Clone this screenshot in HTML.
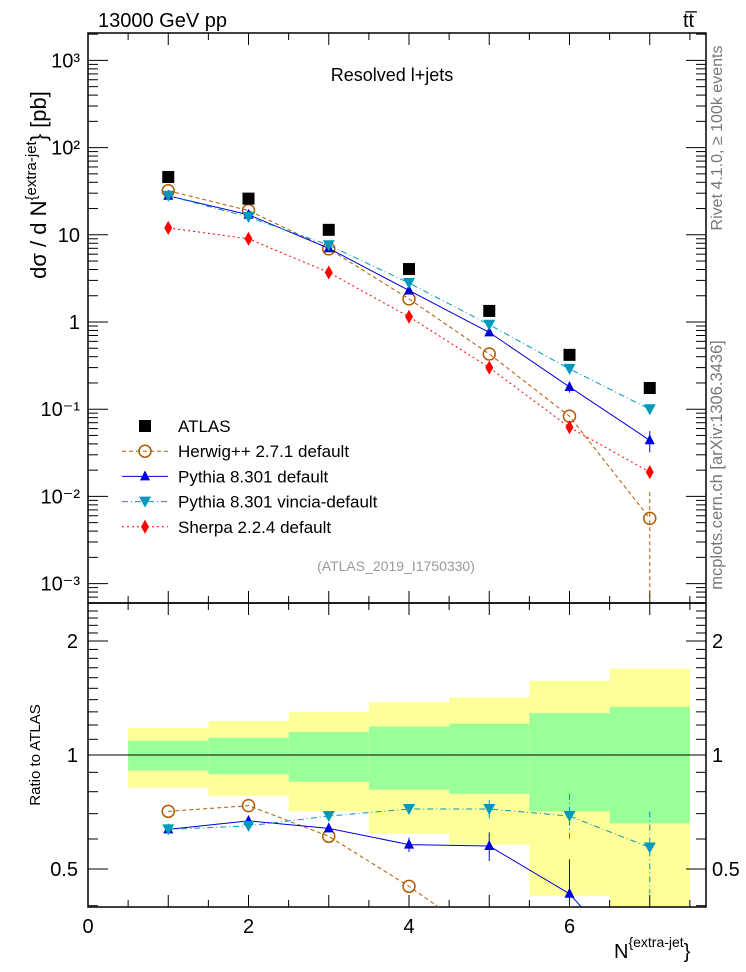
<!DOCTYPE html>
<html><head><meta charset="utf-8"><style>
body{margin:0;background:#fff;overflow:hidden;width:746px;height:972px}
svg{display:block;overflow:hidden}
svg text{font-family:"Liberation Sans",sans-serif}
</style></head><body>
<svg id="c" width="746" height="972" xmlns="http://www.w3.org/2000/svg">
<g id="bands"></g>
<g id="axes"></g>
<g id="series"></g>
<text x="98" y="27" font-size="20">13000 GeV pp</text>
<text x="683" y="27" font-size="20">tt&#773;</text>
<text x="392" y="81" font-size="18" text-anchor="middle">Resolved l+jets</text>
<text x="396" y="571" font-size="14" fill="#999" text-anchor="middle">(ATLAS_2019_I1750330)</text>
<text transform="translate(722,138) rotate(-90)" font-size="16" fill="#777" text-anchor="middle">Rivet 4.1.0, ≥ 100k events</text>
<text transform="translate(722,465) rotate(-90)" font-size="16.5" fill="#777" text-anchor="middle">mcplots.cern.ch [arXiv:1306.3436]</text>
<text transform="translate(46,185) rotate(-90)" font-size="22" text-anchor="middle">dσ / d N<tspan font-size="15" dy="-10">{extra-jet</tspan><tspan dy="10">} [pb]</tspan></text>
<text transform="translate(40,755) rotate(-90)" font-size="15" text-anchor="middle">Ratio to ATLAS</text>
<text x="614" y="958" font-size="20">N<tspan font-size="14" dy="-11">{extra-jet</tspan><tspan font-size="20" dy="11">}</tspan></text>
<g id="legend"></g>
</svg>
<script>
const xs=[1,2,3,4,5,6,7];
const atlas=[46,26,11.4,4.05,1.34,0.42,0.175];
const herwig=[32,19,6.9,1.84,0.43,0.083,0.0056];
const pythia=[28,17,7.0,2.3,0.76,0.18,0.044];
const vincia=[28,16,7.6,2.8,0.93,0.29,0.10];
const sherpa=[12,9,3.7,1.15,0.30,0.062,0.019];
const pythiaErr=[0,0,0,0,0,0.025,0.012];
const vinciaErr=[0,0,0,0,0,0,0.013];
const herwigErr=[0,0,0,0,0,0,0.0056];
const rHerwig=[0.71,0.735,0.61,0.45,0.32,0.2,0.03];
const rPythia=[0.636,0.67,0.64,0.58,0.575,0.43,0.25];
const rVincia=[0.636,0.65,0.69,0.72,0.72,0.69,0.57];
const rSherpa=[0.26,0.35,0.32,0.28,0.22,0.15,0.11];
const rPythiaErr=[0,0,0.015,0.025,0.05,0.1,0];
const rVinciaErr=[0,0,0,0.02,0.04,0.1,0.14];
const yelLo=[0.82,0.78,0.71,0.62,0.58,0.425,0.35];
const yelHi=[1.18,1.23,1.30,1.38,1.42,1.57,1.69];
const grnLo=[0.91,0.89,0.85,0.81,0.79,0.71,0.66];
const grnHi=[1.09,1.11,1.15,1.19,1.21,1.29,1.34];
const upperTicks=[["10³",3],["10²",2],["10",1],["1",0],["10⁻¹",-1],["10⁻²",-2],["10⁻³",-3]];
const ratioTicks=[["2",2],["1",1],["0.5",0.5]];
const xTicks=[0,2,4,6];

const L=88,R=706,T=33,M=603,B=907;
const X=v=>L+v*80.25;
const Y=v=>322-Math.log10(v)*87.2;
const YR=v=>755-Math.log2(v)*114;
const NS="http://www.w3.org/2000/svg";
function mk(p,tag,at){const e=document.createElementNS(NS,tag);for(const k in at)e.setAttribute(k,at[k]);p.appendChild(e);return e;}
const bands=document.getElementById('bands'),axes=document.getElementById('axes'),ser=document.getElementById('series'),leg=document.getElementById('legend');

xs.forEach((x,i)=>{
 const y=mk(bands,'rect',{x:X(x-0.5),y:YR(yelHi[i]),width:X(1)-X(0),height:Math.min(B,YR(yelLo[i]))-YR(yelHi[i]),fill:'#ffff99'});
 
 
 const g=mk(bands,'rect',{x:X(x-0.5),y:YR(grnHi[i]),width:X(1)-X(0),height:YR(grnLo[i])-YR(grnHi[i]),fill:'#99ff99'});
 
 
});
mk(bands,'line',{x1:L,x2:R,y1:YR(1),y2:YR(1),stroke:'#000','stroke-width':1});

mk(axes,'rect',{x:L,y:T,width:R-L,height:M-T,fill:'none',stroke:'#000','stroke-width':1.5});
mk(axes,'rect',{x:L,y:M,width:R-L,height:B-M,fill:'none',stroke:'#000','stroke-width':1.5});
for(let v=0;v<=7.5;v+=0.5){
 const maj=(v%1===0), len=maj?12:7;
 [[T,1],[M,-1],[M,1],[B,-1]].forEach(([y0,d])=>mk(axes,'line',{x1:X(v),x2:X(v),y1:y0,y2:y0+d*len,stroke:'#000'}));
}
xTicks.forEach(v=>{const t=mk(axes,'text',{x:X(v),y:933,'font-size':20,'text-anchor':'middle'});t.textContent=v;
 });
for(let d=-4;d<=3;d++){for(let m=1;m<10;m++){const v=m*Math.pow(10,d);const y=Y(v);if(y<T||y>M)continue;const len=m===1?20:10;
 mk(axes,'line',{x1:L,x2:L+len,y1:y,y2:y,stroke:'#000'});mk(axes,'line',{x1:R,x2:R-len,y1:y,y2:y,stroke:'#000'});}}
upperTicks.forEach(([s,e])=>{const t=mk(axes,'text',{x:80,y:Y(Math.pow(10,e))+7,'font-size':20,'text-anchor':'end'});t.textContent=s;
 });
for(let v=0.4;v<=2.5;v+=0.1){const y=YR(v);if(y<M||y>B)continue;const maj=Math.abs(v-1)<1e-6||Math.abs(v-2)<1e-6||Math.abs(v-0.5)<1e-6;const len=maj?20:10;
 mk(axes,'line',{x1:L,x2:L+len,y1:y,y2:y,stroke:'#000'});mk(axes,'line',{x1:R,x2:R-len,y1:y,y2:y,stroke:'#000'});}
ratioTicks.forEach(([s,v])=>{[[78,'end'],[712,'start']].forEach(([x,a])=>{const t=mk(axes,'text',{x:x,y:YR(v)+7,'font-size':20,'text-anchor':a});t.textContent=s;
 });});

function marker(p,type,x,y,col){
 if(type==='sq')return mk(p,'rect',{x:x-6,y:y-6,width:12,height:12,fill:'#000'});
 if(type==='circ')return mk(p,'circle',{cx:x,cy:y,r:6,fill:'none',stroke:col,'stroke-width':1.5});
 if(type==='up')return mk(p,'polygon',{points:`${x},${y-6} ${x-5},${y+4} ${x+5},${y+4}`,fill:col});
 if(type==='down')return mk(p,'polygon',{points:`${x-6},${y-5} ${x+6},${y-5} ${x},${y+6}`,fill:col});
 return mk(p,'polygon',{points:`${x},${y-7} ${x-4},${y} ${x},${y+7} ${x+4},${y}`,fill:col});
}
const svg=document.getElementById('c');
const clipU=mk(svg,'clipPath',{id:'cu'});mk(clipU,'rect',{x:L,y:T,width:R-L,height:M-T});
const clipL=mk(svg,'clipPath',{id:'cl'});mk(clipL,'rect',{x:L,y:M,width:R-L,height:B-M});
function series(name,vals,err,yf,clip,col,dash,type,lw){
 const g=mk(ser,'g',{'clip-path':`url(#${clip})`});
 
 
 if(dash!==null){mk(g,'polyline',{points:xs.map((x,i)=>X(x)+','+yf(vals[i])).join(' '),fill:'none',stroke:col,'stroke-width':lw,'stroke-dasharray':dash});}
 xs.forEach((x,i)=>{
  if(err&&err[i]>0){const lo=vals[i]-err[i];mk(g,'line',{x1:X(x),x2:X(x),y1:yf(vals[i]+err[i]),y2:lo>0?yf(lo):B+5,stroke:col,'stroke-dasharray':dash||''});}
  const m=marker(g,type,X(x),yf(vals[i]),col);
  
  
 });
}
series('herwig-line',herwig,herwigErr,Y,'cu','#b35900','4,3','circ',1);
series('pythia-line',pythia,pythiaErr,Y,'cu','#0000dd','','up',1);
series('vincia-line',vincia,vinciaErr,Y,'cu','#0099bb','6,3,1,3','down',1);
series('sherpa-line',sherpa,null,Y,'cu','#ff0000','2,3','diam',1);
series('atlas-data',atlas,null,Y,'cu','#000',null,'sq',1);
series('herwig-ratio',rHerwig,null,YR,'cl','#b35900','4,3','circ',1);
series('pythia-ratio',rPythia,rPythiaErr,YR,'cl','#0000dd','','up',1);
series('vincia-ratio',rVincia,rVinciaErr,YR,'cl','#0099bb','6,3,1,3','down',1);
series('sherpa-ratio',rSherpa,null,YR,'cl','#ff0000','2,3','diam',1);

const entries=[["ATLAS",'sq','#000',null],["Herwig++ 2.7.1 default",'circ','#b35900','4,3'],["Pythia 8.301 default",'up','#0000dd',''],["Pythia 8.301 vincia-default",'down','#0099bb','6,3,1,3'],["Sherpa 2.2.4 default",'diam','#ff0000','2,3']];
entries.forEach(([lab,t,c,d],i)=>{
 const yy=426+i*25.2;
 const g=mk(leg,'g',{});
 
 
 if(d!==null)mk(g,'line',{x1:122,x2:168,y1:yy,y2:yy,stroke:c,'stroke-dasharray':d});
 marker(g,t,145,yy,c);
 const tx=mk(g,'text',{x:178,y:yy+6,'font-size':17});tx.textContent=lab;
});
</script>
</body></html>
